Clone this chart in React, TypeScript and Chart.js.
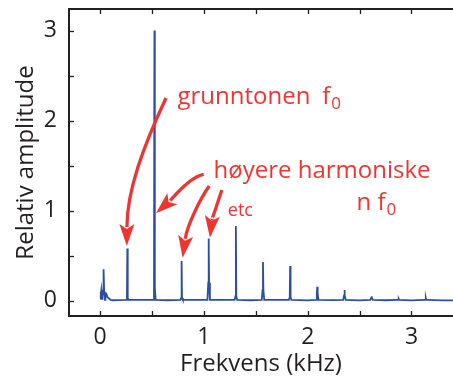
import React, { useEffect, useRef } from "react";
import { Chart, registerables } from "chart.js";

Chart.register(...registerables);

// ---- data (kHz, relative amplitude) ----
const peakFreqs = [0.035, 0.262, 0.523, 0.785, 1.046, 1.308, 1.569, 1.831, 2.092, 2.354, 2.615, 2.877, 3.138];
const peakAmps = [0.35, 0.58, 3.0, 0.44, 0.69, 0.83, 0.43, 0.385, 0.155, 0.12, 0.05, 0.02, 0.03];
const peakPedestals = [0.1, 0.03, 0.15, 0.03, 0.2, 0.05, 0.12, 0.04, 0.08, 0.06, 0.03, 0.01, 0.01];
const noiseFreqs = [0.0, 0.004, 0.008, 0.012, 0.016, 0.02, 0.024, 0.028, 0.042, 0.048, 0.055, 0.062, 0.07, 0.08, 0.09, 0.1, 0.12];
const noiseAmps = [0.02, 0.1, 0.06, 0.12, 0.07, 0.1, 0.05, 0.09, 0.08, 0.1, 0.06, 0.07, 0.04, 0.03, 0.02, 0.01, 0.005];
const baselineFreqs = [0.4, 0.65, 0.9, 1.2, 1.45, 1.7, 2.0, 2.25, 2.5, 2.75, 3.0, 3.3, 3.4];
const baselineAmps = [0.01, 0.005, 0.008, 0.01, 0.005, 0.008, 0.004, 0.006, 0.004, 0.005, 0.003, 0.004, 0.003];

const xTickValues = [0, 0.5, 1, 1.5, 2, 2.5, 3];
const yTickValues = [0, 0.5, 1, 1.5, 2, 2.5, 3];
const xLabelValues = [0, 1, 2, 3];
const yLabelValues = [0, 1, 2, 3];

// annotation texts (positions in data units)
const noteTexts = ["grunntonen", "høyere harmoniske", "etc"];
const notePos = [[0.745, 2.19], [1.093, 1.36], [1.23, 0.94]];
const noteSizes = [24, 24, 18];
const fSymbols = [["f", "0", 2.14, 2.19], ["n f", "0", 2.47, 1.01]];

// arrows: cubic bezier [start, c1, c2, tip] in data units
const arrows = [
  [[0.635, 2.252], [0.418, 1.719], [0.26, 1.23], [0.257, 0.608]],
  [[0.997, 1.404], [0.856, 1.374], [0.702, 1.141], [0.538, 0.971]],
  [[1.051, 1.274], [0.962, 1.13], [0.837, 0.83], [0.795, 0.478]],
  [[1.173, 1.23], [1.125, 1.063], [1.077, 0.897], [1.058, 0.7]],
];

const BLUE = "#2f4ea2";
const RED = "#ee3532";
const INK = "#231f20";
const FONT = "'Open Sans', 'DejaVu Sans', sans-serif";

function buildSpectrum() {
  const pts: { x: number; y: number }[] = [];
  noiseFreqs.forEach((f, i) => pts.push({ x: f, y: noiseAmps[i] }));
  baselineFreqs.forEach((f, i) => pts.push({ x: f, y: baselineAmps[i] }));
  peakFreqs.forEach((f, i) => {
    const a = peakAmps[i];
    const p = peakPedestals[i];
    pts.push({ x: f - 0.012, y: 0.01 });
    pts.push({ x: f - 0.004, y: p });
    pts.push({ x: f, y: a });
    pts.push({ x: f + 0.004, y: p });
    pts.push({ x: f + 0.012, y: 0.01 });
  });
  pts.sort((a, b) => a.x - b.x);
  return pts;
}

const framePlugin = {
  id: "frame",
  afterDatasetsDraw(chart: any) {
    const { ctx, chartArea, scales } = chart;
    const xs = scales.x;
    const ys = scales.y;
    ctx.save();
    ctx.strokeStyle = INK;
    ctx.lineWidth = 2;
    ctx.beginPath();
    ctx.moveTo(chartArea.left, chartArea.top);
    ctx.lineTo(chartArea.right + 2, chartArea.top);
    ctx.stroke();
    ctx.lineWidth = 1.3;
    const tl = 5;
    xTickValues.forEach((v) => {
      const px = Math.round(xs.getPixelForValue(v)) + 0.5;
      ctx.beginPath();
      ctx.moveTo(px, chartArea.bottom);
      ctx.lineTo(px, chartArea.bottom - tl);
      ctx.moveTo(px, chartArea.top);
      ctx.lineTo(px, chartArea.top + tl);
      ctx.stroke();
    });
    yTickValues.forEach((v) => {
      const py = Math.round(ys.getPixelForValue(v)) + 0.5;
      ctx.beginPath();
      ctx.moveTo(chartArea.left, py);
      ctx.lineTo(chartArea.left + tl, py);
      ctx.stroke();
    });

    // annotations
    ctx.fillStyle = RED;
    ctx.textBaseline = "alphabetic";
    ctx.textAlign = "left";
    noteTexts.forEach((t, i) => {
      ctx.font = `${noteSizes[i]}px ${FONT}`;
      ctx.fillText(t, xs.getPixelForValue(notePos[i][0]), ys.getPixelForValue(notePos[i][1]));
    });
    fSymbols.forEach(([main, sub, fx, fy]) => {
      const px = xs.getPixelForValue(fx as number);
      const py = ys.getPixelForValue(fy as number);
      ctx.font = `24px ${FONT}`;
      ctx.fillText(main as string, px, py);
      const w = ctx.measureText(main as string).width;
      ctx.font = `17px ${FONT}`;
      ctx.fillText(sub as string, px + w + 1, py + 5);
    });

    // arrows
    ctx.strokeStyle = RED;
    ctx.lineWidth = 3.3;
    ctx.lineCap = "butt";
    arrows.forEach((a) => {
      const p = a.map(([x, y]) => [xs.getPixelForValue(x), ys.getPixelForValue(y)]);
      const tip = p[3];
      const dx = tip[0] - p[2][0];
      const dy = tip[1] - p[2][1];
      const len = Math.hypot(dx, dy);
      const ux = dx / len;
      const uy = dy / len;
      const headLen = 22;
      const headHalf = 7.5;
      const bx = tip[0] - ux * headLen;
      const by = tip[1] - uy * headLen;
      ctx.beginPath();
      ctx.moveTo(p[0][0], p[0][1]);
      ctx.bezierCurveTo(p[1][0], p[1][1], p[2][0], p[2][1], bx + ux * 3, by + uy * 3);
      ctx.stroke();
      ctx.beginPath();
      ctx.moveTo(tip[0], tip[1]);
      ctx.lineTo(bx - uy * headHalf, by + ux * headHalf);
      ctx.lineTo(bx + ux * 5, by + uy * 5);
      ctx.lineTo(bx + uy * headHalf, by - ux * headHalf);
      ctx.closePath();
      ctx.fill();
    });
    ctx.restore();
  },
};

export default function App() {
  const ref = useRef<HTMLCanvasElement | null>(null);
  useEffect(() => {
    if (!ref.current) return;
    const chart = new Chart(ref.current, {
      type: "line",
      data: {
        datasets: [
          {
            data: buildSpectrum(),
            borderColor: BLUE,
            borderWidth: 1.8,
            pointRadius: 0,
            tension: 0,
            fill: false,
          },
        ],
      },
      options: {
        animation: false,
        responsive: true,
        maintainAspectRatio: false,
        layout: { padding: { top: 9, right: 0, left: 0, bottom: 0 } },
        plugins: { legend: { display: false }, tooltip: { enabled: false } },
        scales: {
          x: {
            type: "linear",
            min: -0.3,
            max: 3.4,
            afterBuildTicks: (s: any) => {
              s.ticks = xTickValues.map((v) => ({ value: v }));
            },
            afterFit: (s: any) => {
              s.height = 65;
              s.paddingLeft = 0;
              s.paddingRight = 0;
            },
            ticks: {
              autoSkip: false,
              maxRotation: 0,
              padding: 8,
              color: INK,
              font: { family: FONT, size: 23 },
              callback: (v: any) => (xLabelValues.includes(Number(v)) ? String(v) : ""),
            },
            grid: { display: true, drawOnChartArea: false, drawTicks: false },
            border: { display: true, color: INK, width: 2 },
            title: {
              display: true,
              text: "Frekvens (kHz)",
              color: INK,
              font: { family: FONT, size: 24 },
              padding: { top: 0, bottom: 2 },
            },
          },
          y: {
            type: "linear",
            min: -0.17,
            max: 3.24,
            afterBuildTicks: (s: any) => {
              s.ticks = yTickValues.map((v) => ({ value: v }));
            },
            afterFit: (s: any) => {
              s.width = 69;
              s.paddingTop = 0;
              s.paddingBottom = 0;
            },
            ticks: {
              autoSkip: false,
              padding: 12,
              color: INK,
              font: { family: FONT, size: 23 },
              callback: (v: any) => (yLabelValues.includes(Number(v)) ? String(v) : ""),
            },
            grid: { display: true, drawOnChartArea: false, drawTicks: false },
            border: { display: true, color: INK, width: 2 },
            title: {
              display: true,
              text: "Relativ amplitude",
              color: INK,
              font: { family: FONT, size: 24 },
              padding: { top: 12, bottom: 0 },
            },
          },
        },
      },
      plugins: [framePlugin],
    });
    return () => chart.destroy();
  }, []);
  return (
    <div style={{ position: "fixed", left: 0, top: 0, width: 453, height: 381, background: "#fff" }}>
      <canvas ref={ref} />
    </div>
  );
}
